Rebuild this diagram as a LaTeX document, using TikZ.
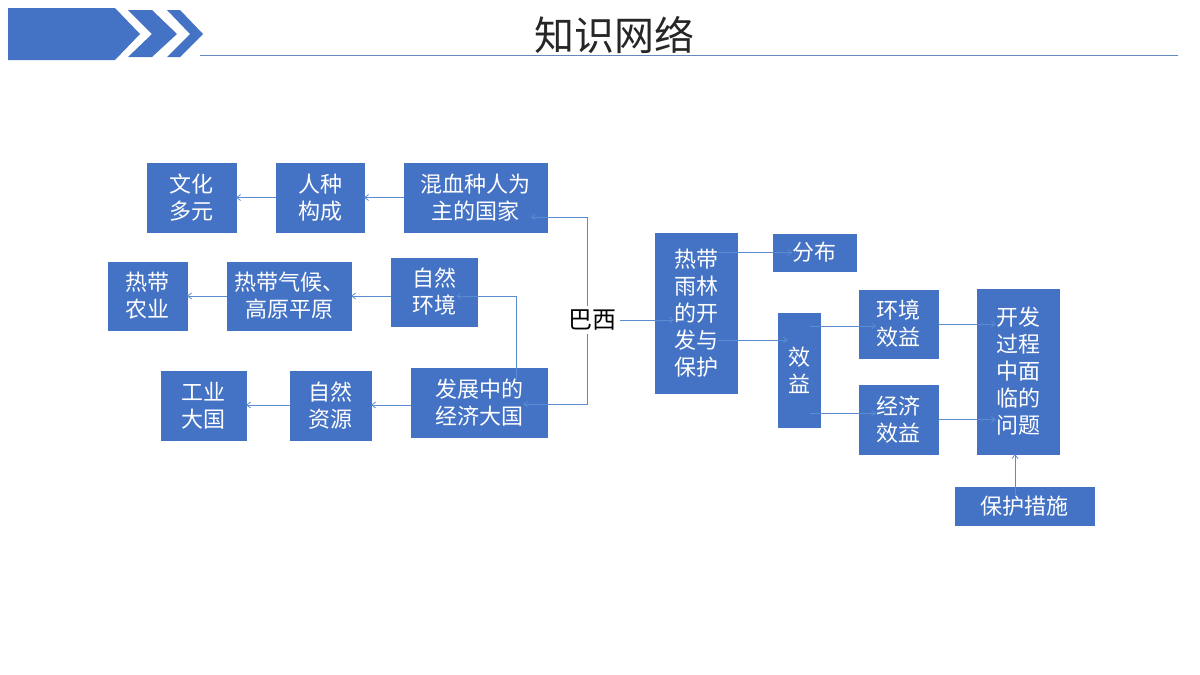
\documentclass[tikz,border=0pt]{standalone}
\usepackage{fontspec}
\setmainfont{Noto Sans CJK SC}
\usetikzlibrary{arrows.meta}
\definecolor{bx}{HTML}{4472C4}
\definecolor{ln}{HTML}{5B8BD0}
\begin{document}
\begin{tikzpicture}[x=1pt,y=-1pt,
  bb/.style={fill=bx,draw=bx,text=white,font=\fontsize{22}{27}\selectfont,inner sep=0pt,align=center},
  ar/.style={draw=ln,line width=0.8pt,-{Straight Barb[length=4pt,width=6pt]}}]
\useasboundingbox (0,0) rectangle (1200,675);
% header
\fill[bx] (8,8) -- (115,8) -- (140,34) -- (115,60) -- (8,60) -- cycle;
\fill[bx] (128,10) -- (152,10) -- (177,34) -- (152,57) -- (128,57) -- (152,34) -- cycle;
\fill[bx] (167,10) -- (180,10) -- (203,34) -- (180,57) -- (167,57) -- (190,34) -- cycle;
\draw[color=ln!80!gray,line width=0.8pt] (200,55) -- (1178,55);
\node[font=\fontsize{40}{44}\selectfont,text=black!85] (title) at (614,35) {知识网络};
% boxes
\newcommand\bxn[6]{\path[bb] (#1,#3) rectangle (#2,#4); \node[bb,fill=none,draw=none] (#5) at ({(#1+#2)/2},{(#3+#4)/2}) {#6};
  \coordinate (#5-w) at (#1,{(#3+#4)/2}); \coordinate (#5-e) at (#2,{(#3+#4)/2});}
\bxn{147}{236}{163}{232}{wh}{文化\\多元}
\bxn{276}{364}{163}{232}{rz}{人种\\构成}
\bxn{404}{547}{163}{232}{hx}{混血种人为\\主的国家}
\bxn{108}{187}{262}{330}{ny}{热带\\农业}
\bxn{227}{351}{262}{330}{qh}{热带气候、\\高原平原}
\bxn{391}{477}{258}{326}{zh}{自然\\环境}
\bxn{161}{246}{371}{440}{gy}{工业\\大国}
\bxn{290}{371}{371}{440}{zy}{自然\\资源}
\bxn{411}{547}{368}{437}{fz}{发展中的\\经济大国}
\bxn{655}{737}{233}{393}{rl}{热带\\雨林\\的开\\发与\\保护}
\bxn{773}{856}{234}{271}{fb}{分布}
\bxn{778}{820}{313}{427}{xy}{效\\益}
\bxn{859}{938}{290}{358}{hj}{环境\\效益}
\bxn{859}{938}{385}{454}{jj}{经济\\效益}
\bxn{977}{1059}{289}{454}{wt}{开发\\过程\\中面\\临的\\问题}
\bxn{955}{1094}{487}{525}{bh}{保护措施}
\node[font=\fontsize{24}{28}\selectfont] (bx) at (592,320) {巴西};
% connectors
\draw[ar] (bx.north -| 587,0) -- (587,217) -- (hx.east |- 0,217);
\draw[ar] (bx.south -| 587,0) -- (587,404) -- (fz.east |- 0,404);
\draw[ar] (fz.north -| 516,0) -- (516,296) -- (zh.east |- 0,296);
\draw[ar] (bx.east) -- (rl.west |- bx.east);
\draw[ar] (rl.east |- fb.east) -- (fb.west);
\draw[ar] (rl.east |- 0,340) -- (xy.west |- 0,340);
\draw[ar] (xy.east |- 0,326) -- (hj.west |- 0,326);
\draw[ar] (xy.east |- 0,413) -- (jj.west |- 0,413);
\draw[ar] (hj-e) -- (wt.west |- hj-e);
\draw[ar] (jj-e) -- (wt.west |- jj-e);
\draw[ar] (bh.north -| 1015,0) -- (1015,454);
\draw[ar] (hx-w) -- (rz-e);
\draw[ar] (rz-w) -- (wh-e);
\draw[ar] (zh-w |- 0,296) -- (qh-e |- 0,296);
\draw[ar] (qh-w |- 0,296) -- (ny-e |- 0,296);
\draw[ar] (fz-w |- 0,405) -- (zy-e |- 0,405);
\draw[ar] (zy-w |- 0,405) -- (gy-e |- 0,405);
\end{tikzpicture}
\end{document}
